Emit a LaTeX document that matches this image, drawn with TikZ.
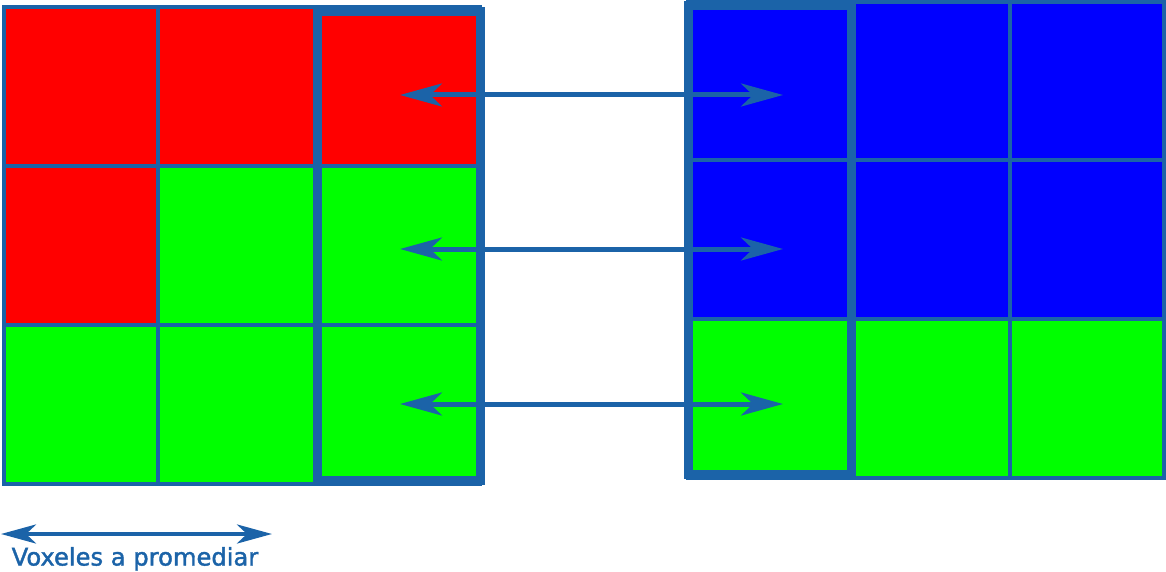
\documentclass[tikz,border=0pt]{standalone}
\usepackage{fontspec}
\setmainfont{DejaVu Sans}
\newfontfamily\lblfont{DejaVu Sans}[FakeBold=1.6]
\usetikzlibrary{arrows.meta}
\definecolor{lineblue}{HTML}{1B63A8}
\definecolor{cred}{HTML}{FF0000}
\definecolor{cgreen}{HTML}{00FF00}
\definecolor{cblue}{HTML}{0000FF}
\begin{document}
\begin{tikzpicture}[x=1pt,y=-1pt,
  cell/.style={draw=lineblue, line width=4pt},
  thickcol/.style={draw=lineblue, line width=9pt},
  bigarrow/.style={draw=lineblue, line width=5pt, {Stealth[length=42pt,width=23pt,inset=12pt]}-{Stealth[length=42pt,width=23pt,inset=12pt]}},
  smallarrow/.style={draw=lineblue, line width=4.5pt, {Stealth[length=35pt,width=19pt,inset=10pt]}-{Stealth[length=35pt,width=19pt,inset=10pt]}},
  lbl/.style={text=lineblue, font=\lblfont\fontsize{24.2pt}{29pt}\selectfont, inner sep=0pt, anchor=base west}
]
\useasboundingbox (0,0) rectangle (1166,572);
% left grid
\path[cell, fill=cred]   (3.5,7.5) rectangle (158,166);
\path[cell, fill=cred]   (158,7.5) rectangle (317.5,166);
\path[cell, fill=cred]   (317.5,7.5) rectangle (480,166);
\path[cell, fill=cred]   (3.5,166) rectangle (158,325);
\path[cell, fill=cgreen] (158,166) rectangle (317.5,325);
\path[cell, fill=cgreen] (317.5,166) rectangle (480,325);
\path[cell, fill=cgreen] (3.5,325) rectangle (158,483.5);
\path[cell, fill=cgreen] (158,325) rectangle (317.5,483.5);
\path[cell, fill=cgreen] (317.5,325) rectangle (480,483.5);
\path[thickcol] (317.5,12) rectangle (480,480.5);
% right grid
\path[cell, fill=cblue]  (688,2) rectangle (851,160);
\path[cell, fill=cblue]  (851,2) rectangle (1010,160);
\path[cell, fill=cblue]  (1010,2) rectangle (1164,160);
\path[cell, fill=cblue]  (688,160) rectangle (851,319);
\path[cell, fill=cblue]  (851,160) rectangle (1010,319);
\path[cell, fill=cblue]  (1010,160) rectangle (1164,319);
\path[cell, fill=cgreen] (688,319) rectangle (851,477.5);
\path[cell, fill=cgreen] (851,319) rectangle (1010,477.5);
\path[cell, fill=cgreen] (1010,319) rectangle (1164,477.5);
\path[thickcol] (688,5.5) rectangle (851,474);
% arrows
\coordinate (a1l) at (400,95);  \coordinate (a1r) at (783,95);
\coordinate (a2l) at (400,249); \coordinate (a2r) at (783,249);
\coordinate (a3l) at (400,404); \coordinate (a3r) at (783,404);
\draw[bigarrow] (a1l) -- (a1r);
\draw[bigarrow] (a2l) -- (a2r);
\draw[bigarrow] (a3l) -- (a3r);
\coordinate (bl) at (1,534); \coordinate (br) at (272,534);
\draw[smallarrow] (bl) -- (br);
\node[lbl] (label) at (11.5,565.5) {Voxeles a promediar};
\end{tikzpicture}
\end{document}
